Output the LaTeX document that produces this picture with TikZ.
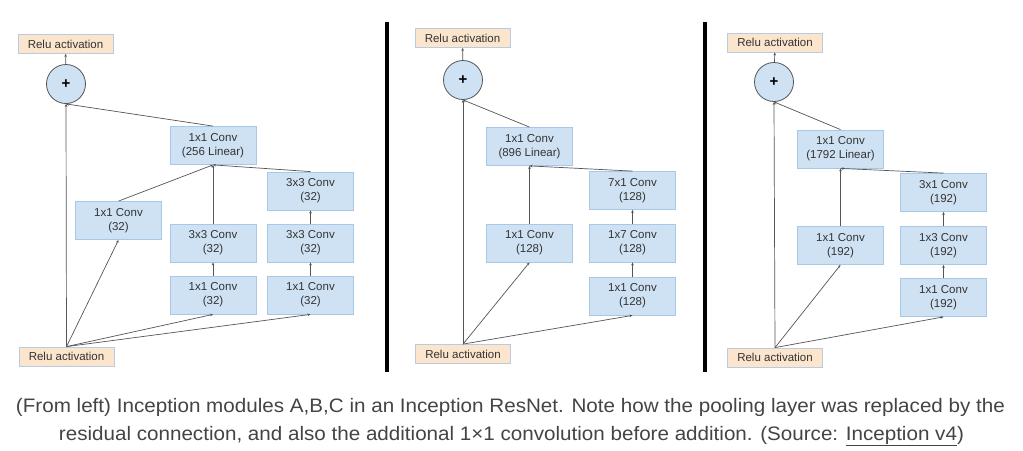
\documentclass[tikz,border=0pt]{standalone}
\usepackage{fontspec}
\usepackage{graphicx}
\setmainfont{Liberation Sans}
\usetikzlibrary{arrows.meta}
\definecolor{convfill}{HTML}{CFE2F3}
\definecolor{convline}{HTML}{A9C8E8}
\definecolor{relufill}{HTML}{FCE5CD}
\definecolor{reluline}{HTML}{B9CBE3}
\definecolor{linkgray}{HTML}{555555}
\definecolor{textgray}{HTML}{333333}
\definecolor{capgray}{HTML}{444444}
\tikzset{
  conv/.style={draw=convline,fill=convfill,line width=0.8pt,minimum width=86pt,minimum height=38pt,
    inner sep=0pt,align=center,text=textgray,font=\fontsize{11.5}{14}\selectfont},
  relu/.style={draw=reluline,fill=relufill,line width=0.8pt,minimum width=95pt,minimum height=19pt,
    inner sep=0pt,text=textgray,font=\fontsize{11.5}{14}\selectfont},
  plus/.style={circle,draw=linkgray,fill=convfill,line width=0.8pt,minimum size=39pt,inner sep=0pt,
    font=\fontsize{15}{15}\selectfont\bfseries},
  link/.style={draw=linkgray,line width=0.7pt,-{Stealth[length=3pt,width=2.6pt]}},
  caption/.style={anchor=base,inner sep=0pt,text=capgray,font=\fontsize{19.5}{22}\selectfont}
}
\begin{document}
\begin{tikzpicture}[x=1pt,y=-1pt]
\useasboundingbox[fill=white] (0,0) rectangle (1023,450);
% separators
\draw[line width=4pt] (386.5,22) -- (386.5,372);
\draw[line width=4pt] (705,22) -- (705,372);
% module A
\node[relu] (topA) at (65.5,44) {Relu activation};
\node[plus] (plusA) at (66,84) {+};
\node[conv] (linA) at (213,145.5) {1x1 Conv\\(256 Linear)};
\node[conv] (aA) at (118.5,220.5) {1x1 Conv\\(32)};
\node[conv] (bA) at (213,243) {3x3 Conv\\(32)};
\node[conv] (cA) at (213,295) {1x1 Conv\\(32)};
\node[conv] (dA) at (310.5,191) {3x3 Conv\\(32)};
\node[conv] (eA) at (310.5,243) {3x3 Conv\\(32)};
\node[conv] (fA) at (310.5,295) {1x1 Conv\\(32)};
\node[relu] (botA) at (66.5,356.5) {Relu activation};
\draw[link] (botA.north) -- (plusA.south);
\draw[link] (botA.north) -- (aA.south);
\draw[link] (botA.north) -- (cA.south);
\draw[link] (botA.north) -- (fA.south);
\draw[link] (cA) -- (bA);
\draw[link] (fA) -- (eA);
\draw[link] (eA) -- (dA);
\draw[link] (aA.north) -- (linA.south);
\draw[link] (bA.north) -- (linA.south);
\draw[link] (dA.north) -- (linA.south);
\draw[link] (linA.north) -- (plusA.south);
\draw[link] (plusA) -- (topA);
% module B
\node[relu] (topB) at (462.5,38) {Relu activation};
\node[plus] (plusB) at (463,80) {+};
\node[conv] (linB) at (529.5,146.5) {1x1 Conv\\(896 Linear)};
\node[conv] (aB) at (529.5,243) {1x1 Conv\\(128)};
\node[conv] (bB) at (632.5,190.5) {7x1 Conv\\(128)};
\node[conv] (cB) at (632.5,243) {1x7 Conv\\(128)};
\node[conv] (dB) at (632.5,296) {1x1 Conv\\(128)};
\node[relu] (botB) at (463,354) {Relu activation};
\draw[link] (botB.north) -- (plusB.south);
\draw[link] (botB.north) -- (aB.south);
\draw[link] (botB.north) -- (dB.south);
\draw[link] (dB) -- (cB);
\draw[link] (cB) -- (bB);
\draw[link] (aB.north) -- (linB.south);
\draw[link] (bB.north) -- (linB.south);
\draw[link] (linB.north) -- (plusB.south);
\draw[link] (plusB) -- (topB);
% module C
\node[relu] (topC) at (775,42.5) {Relu activation};
\node[plus] (plusC) at (774,82) {+};
\node[conv] (linC) at (840.5,149) {1x1 Conv\\(1792 Linear)};
\node[conv] (aC) at (840.5,245.5) {1x1 Conv\\(192)};
\node[conv] (bC) at (943.5,192.5) {3x1 Conv\\(192)};
\node[conv] (cC) at (943.5,245.5) {1x3 Conv\\(192)};
\node[conv] (dC) at (943.5,297.5) {1x1 Conv\\(192)};
\node[relu] (botC) at (775,357.5) {Relu activation};
\draw[link] (botC.north) -- (plusC.south);
\draw[link] (botC.north) -- (aC.south);
\draw[link] (botC.north) -- (dC.south);
\draw[link] (dC) -- (cC);
\draw[link] (cC) -- (bC);
\draw[link] (aC.north) -- (linC.south);
\draw[link] (bC.north) -- (linC.south);
\draw[link] (linC.north) -- (plusC.south);
\draw[link] (plusC) -- (topC);
% caption
\node[caption] (cap1) at (510.5,412) {\resizebox{989pt}{\height}{(From left) Inception modules A,B,C in an Inception ResNet. Note how the pooling layer was replaced by the}};
\node[caption] (cap2) at (511.5,440) {\resizebox{905pt}{\height}{residual connection, and also the additional 1×1 convolution before addition. (Source: \underline{Inception v4})}};
\end{tikzpicture}
\end{document}
